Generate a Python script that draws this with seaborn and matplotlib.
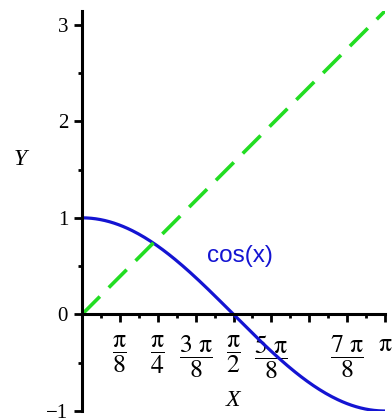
import numpy as np
import pandas as pd
import matplotlib
matplotlib.use("Agg")
import matplotlib.pyplot as plt
import seaborn as sns

# Curve sample points on [0, pi]
x_vals = np.linspace(0, np.pi, 200)
cos_vals = np.cos(x_vals)
line_vals = x_vals.copy()

# Axis ticks: x ticks in eighths of pi, y ticks at integers
x_tick_eighths = [1, 2, 3, 4, 5, 6, 7, 8]
x_tick_labels = [r'$\dfrac{\mathrm{π}}{8}$', r'$\dfrac{\mathrm{π}}{4}$',
                 r'$\dfrac{3\ \mathrm{π}}{8}$', r'$\dfrac{\mathrm{π}}{2}$',
                 r'$\dfrac{5\ \mathrm{π}}{8}$', '',
                 r'$\dfrac{7\ \mathrm{π}}{8}$', r'$\mathrm{π}$']
y_ticks = [-1, 0, 1, 2, 3]
y_tick_labels = ['\u22121', '0', '1', '2', '3']

sns.set_style("ticks")
plt.rcParams['font.family'] = ['Liberation Serif', 'DejaVu Serif']
plt.rcParams['mathtext.fontset'] = 'stix'
plt.rcParams['text.color'] = 'black'
plt.rcParams['xtick.color'] = 'black'
plt.rcParams['ytick.color'] = 'black'
plt.rcParams['axes.labelcolor'] = 'black'

df_cos = pd.DataFrame({"X": x_vals, "Y": cos_vals})
df_line = pd.DataFrame({"X": x_vals, "Y": line_vals})

fig = plt.figure(figsize=(3.92, 4.18), dpi=100)
ax = fig.add_axes([82 / 392, 7 / 418, 303 / 392, 400 / 418])

sns.lineplot(data=df_cos, x="X", y="Y", ax=ax, color="#1414d2", lw=2.3)
sns.lineplot(data=df_line, x="X", y="Y", ax=ax, color="#22dd22", lw=2.6,
             dashes=False, linestyle=(0, (7, 3.5)))

ax.set_xlim(0, np.pi)
ax.set_ylim(-1, np.pi)

for side in ("top", "right"):
    ax.spines[side].set_visible(False)
ax.spines["left"].set_position(("data", 0))
ax.spines["bottom"].set_position(("data", 0))
for side in ("left", "bottom"):
    ax.spines[side].set_linewidth(2.2)
    ax.spines[side].set_color("black")

major_x = [k * np.pi / 8 for k in x_tick_eighths]
minor_x = [(2 * k - 1) * np.pi / 16 for k in x_tick_eighths]
ax.set_xticks(major_x)
ax.set_xticklabels(x_tick_labels, fontsize=18.5)
ax.set_xticks(minor_x, minor=True)
ax.set_yticks(y_ticks)
ax.set_yticklabels(y_tick_labels, fontsize=15)
ax.set_yticks([-0.5, 0.5, 1.5, 2.5], minor=True)

ax.tick_params(axis="x", which="major", direction="out", length=6, width=2,
               pad=8, colors="black")
ax.tick_params(axis="x", which="minor", direction="out", length=3, width=2)
ax.tick_params(axis="y", which="major", direction="out", length=6, width=2,
               pad=4, colors="black")
ax.tick_params(axis="y", which="minor", direction="out", length=3, width=2)

ax.set_xlabel("X", fontsize=17, style="italic")
ax.xaxis.set_label_coords(0.498, 0.026)
ax.xaxis.label.set_va("center")
ax.set_ylabel("Y", fontsize=17, style="italic", rotation=0)
ax.yaxis.set_label_coords(-0.205, 0.628)
ax.yaxis.label.set_va("center")

ax.text(1.30, 0.61, "cos(x)", color="#1414d2", fontsize=17.5,
        family="Liberation Sans", ha="left", va="center")

fig.savefig("out.png", dpi=100)
